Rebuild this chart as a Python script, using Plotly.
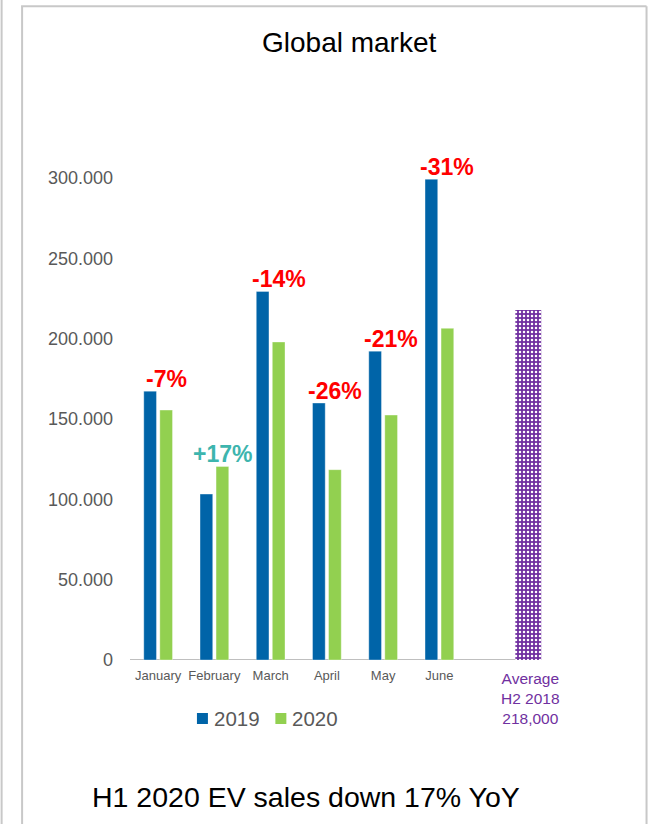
import plotly.graph_objects as go

# Monthly EV sales, global market
months = ["January", "February", "March", "April", "May", "June"]
sales_2019 = [167400, 103300, 229500, 160000, 192300, 299400]
sales_2020 = [155600, 120500, 198000, 118500, 152500, 206500]
series_names = ["2019", "2020"]
avg_h2_2018 = 218000
y_ticks = [0, 50000, 100000, 150000, 200000, 250000, 300000]
y_tick_text = ["0", "50.000", "100.000", "150.000", "200.000", "250.000", "300.000"]

FONT = "Arial, Liberation Sans, sans-serif"
BLUE = "#0064A8"
GREEN = "#92D050"
PURPLE = "#7030A0"
RED = "#FF0000"
TEAL = "#3DB5AE"
GREY_TXT = "#595959"

W, H = 650, 824
L, R = 130, 580.4          # plot area, px
T, B = 129.8, 660.0
X_RANGE = [-0.5, 7.5]
Y_RANGE = [0, 330000]


def px(x):
    return (x - L) / (R - L)


def py(y):
    return (B - y) / (B - T)


x_idx = list(range(len(months)))
avg_x = 6.58
bar_w = 0.2255

fig = go.Figure()
fig.add_trace(go.Bar(
    x=x_idx, y=sales_2019, name=series_names[0], width=bar_w, offset=-0.255,
    marker=dict(color=BLUE, line=dict(color="rgba(255,255,255,0.35)", width=1)),
))
fig.add_trace(go.Bar(
    x=x_idx, y=sales_2020, name=series_names[1], width=bar_w, offset=0.03,
    marker=dict(color=GREEN, line=dict(color="rgba(255,255,255,0.35)", width=1)),
))
fig.add_trace(go.Bar(
    x=[avg_x], y=[avg_h2_2018], width=0.46, name="Average H2 2018",
    marker=dict(color=PURPLE, line=dict(width=0),
                pattern=dict(shape=".", fgcolor="white", bgcolor=PURPLE,
                             size=4, solidity=0.3, fillmode="replace")),
))

annotations = []
# year-over-year change above each month
for i, (a, b) in enumerate(zip(sales_2019, sales_2020)):
    pct = round((b / a - 1) * 100)
    annotations.append(dict(
        x=i, y=max(a, b), xref="x", yref="y", text=f"{pct:+d}%",
        showarrow=False, yanchor="bottom", xanchor="center", xshift=8, yshift=-3,
        font=dict(family=FONT, size=23, color=RED if pct < 0 else TEAL, weight="bold"),
    ))
# label under the H2 2018 average bar
annotations.append(dict(
    x=avg_x, y=0, xref="x", yref="y", yanchor="top", xanchor="center", yshift=-8, xshift=2,
    text=f"Average<br>H2 2018<br>{avg_h2_2018:,}", showarrow=False, align="center",
    font=dict(family=FONT, size=15.5, color=PURPLE),
))
annotations.append(dict(
    x=px(350), y=py(42), xref="paper", yref="paper", text="Global market",
    showarrow=False, xanchor="center", yanchor="middle",
    font=dict(family=FONT, size=28, color="black"),
))
annotations.append(dict(
    x=px(306), y=py(797), xref="paper", yref="paper",
    text="H1 2020 EV sales down 17% YoY",
    showarrow=False, xanchor="center", yanchor="middle",
    font=dict(family=FONT, size=28.5, color="black"),
))

shapes = [
    # slide frame
    dict(type="line", xref="paper", yref="paper", x0=px(22), x1=px(22), y0=py(6), y1=py(830),
         line=dict(color="#C8C8C8", width=2)),
    dict(type="line", xref="paper", yref="paper", x0=px(21), x1=px(647), y0=py(6), y1=py(6),
         line=dict(color="#C8C8C8", width=2)),
    dict(type="line", xref="paper", yref="paper", x0=px(647), x1=px(647), y0=py(6), y1=py(830),
         line=dict(color="#C8C8C8", width=2)),
    dict(type="line", xref="paper", yref="paper", x0=px(1.5), x1=px(1.5), y0=py(-5), y1=py(830),
         line=dict(color="#C8C8C8", width=2)),
    # baseline
    dict(type="line", xref="x", yref="y", x0=-0.5, x1=avg_x, y0=0, y1=0,
         line=dict(color="#BFBFBF", width=2), layer="below"),
]

# legend: colour key squares followed by the series names
legend_items = [(series_names[0], BLUE, 197), (series_names[1], GREEN, 275.5)]
for name, colour, x0 in legend_items:
    shapes.append(dict(type="rect", xref="paper", yref="paper",
                       x0=px(x0), x1=px(x0 + 11), y0=py(713), y1=py(724),
                       fillcolor=colour, line=dict(width=0)))
    annotations.append(dict(
        x=px(x0 + 15), y=py(719), xref="paper", yref="paper", text=name,
        showarrow=False, xanchor="left", yanchor="middle",
        font=dict(family=FONT, size=20.5, color=GREY_TXT),
    ))

fig.update_layout(
    width=W, height=H,
    margin=dict(l=L, r=W - R, t=T, b=H - B, pad=0),
    paper_bgcolor="white", plot_bgcolor="white",
    barmode="overlay",
    showlegend=False,
    xaxis=dict(range=X_RANGE, tickvals=x_idx, ticktext=months, showgrid=False,
               zeroline=False, showline=False, ticks="", ticklabelstandoff=6,
               tickfont=dict(family=FONT, size=13, color=GREY_TXT)),
    yaxis=dict(range=Y_RANGE, tickvals=y_ticks, ticktext=y_tick_text, showgrid=False,
               zeroline=False, showline=False, ticks="", ticklabelstandoff=16,
               tickfont=dict(family=FONT, size=18, color=GREY_TXT)),
    annotations=annotations,
    shapes=shapes,
)

fig.write_html("out.html")
